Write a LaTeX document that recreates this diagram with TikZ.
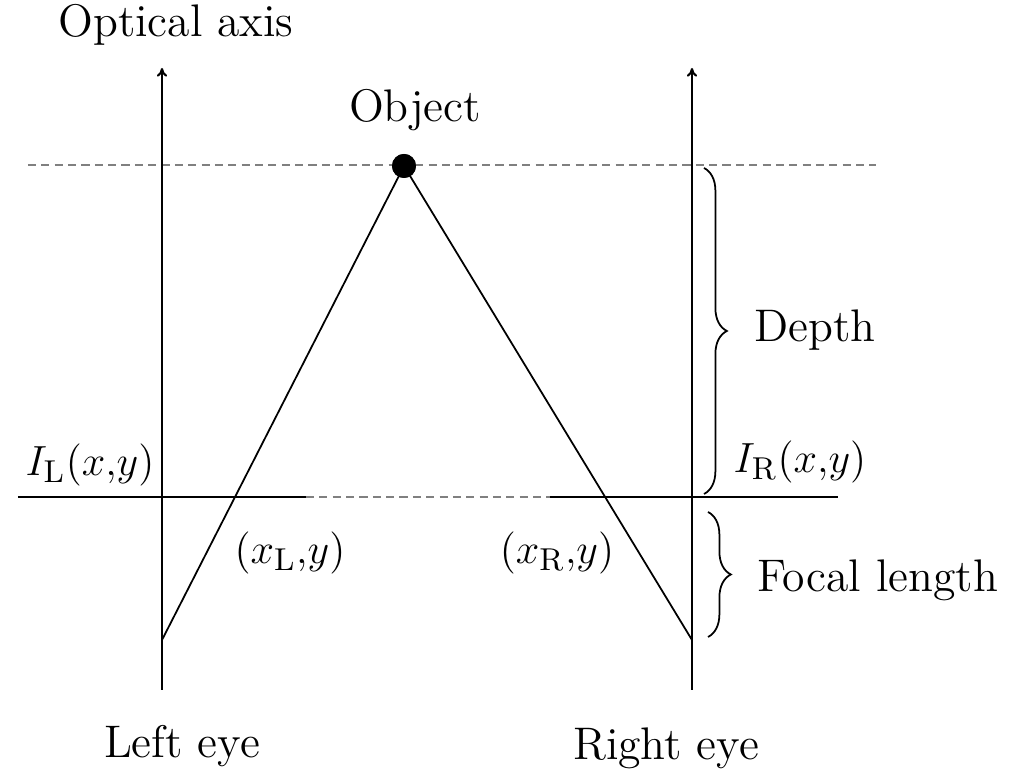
\documentclass[tikz,border=0pt]{standalone}
\usepackage{amsmath}
\usepackage{tikz}
\usetikzlibrary{arrows.meta, decorations.pathreplacing, calc}

\begin{document}
\begin{tikzpicture}[
    font=\fontsize{13}{15}\selectfont,
    axis/.style={line width=0.6pt, -{To[length=2.5pt, width=3pt]}},
    plane/.style={line width=0.8pt},
    ray/.style={line width=0.5pt},
    guide/.style={line width=0.5pt, gray, dash pattern=on 2.3pt off 1.5pt},
    brc/.style={decorate, decoration={brace, amplitude=6.5pt}, line width=0.5pt},
    dot/.style={circle, fill=black, inner sep=0pt, minimum size=0.24cm},
]
\useasboundingbox (0,0) rectangle (10.18,7.74);

% eyes and optical axes
\coordinate (lb) at (1.62,0.84);
\coordinate (lt) at (1.62,7.06);
\coordinate (rb) at (6.92,0.84);
\coordinate (rt) at (6.92,7.06);
\coordinate (lf) at (1.62,1.34);
\coordinate (rf) at (6.92,1.34);

% object and depth line
\node[dot] (obj) at (4.04,6.08) {};
\coordinate (dl) at (0.28,6.09);
\coordinate (dr) at (8.76,6.09);

% image planes
\coordinate (pl1) at (0.18,2.77);
\coordinate (pl2) at (3.06,2.77);
\coordinate (pr1) at (5.50,2.77);
\coordinate (pr2) at (8.38,2.77);

\draw[guide] (dl) -- (dr);
\draw[guide] (pl2) -- (pr1);
\draw[axis] (lb) -- (lt);
\draw[axis] (rb) -- (rt);
\draw[plane] (pl1) -- (pl2);
\draw[plane] (pr1) -- (pr2);
\draw[ray] (lf) -- (obj.center);
\draw[ray] (rf) -- (obj.center);
\node[dot] at (obj) {};

% braces
\coordinate (b1) at (7.04,6.06);
\coordinate (b2) at (7.04,2.80);
\coordinate (b3) at (7.08,2.62);
\coordinate (b4) at (7.08,1.37);
\draw[brc] (b1) -- (b2);
\draw[brc] (b3) -- (b4);

% labels
\node (optaxis) at (1.76,7.49) {Optical axis};
\node (objlbl) at (4.15,6.64) {Object};
\node[anchor=west] (depth) at (7.42,4.44) {Depth};
\node[anchor=west] (focal) at (7.45,1.94) {Focal length};
\node (il) at (0.90,3.09) {$I_{\mathrm{L}}(x{,}y)$};
\node (ir) at (8.00,3.12) {$I_{\mathrm{R}}(x{,}y)$};
\node (xl) at (2.90,2.21) {$(x_{\mathrm{L}}{,}y)$};
\node (xr) at (5.57,2.21) {$(x_{\mathrm{R}}{,}y)$};
\node (leye) at (1.82,0.28) {Left eye};
\node (reye) at (6.66,0.26) {Right eye};

\end{tikzpicture}
\end{document}
